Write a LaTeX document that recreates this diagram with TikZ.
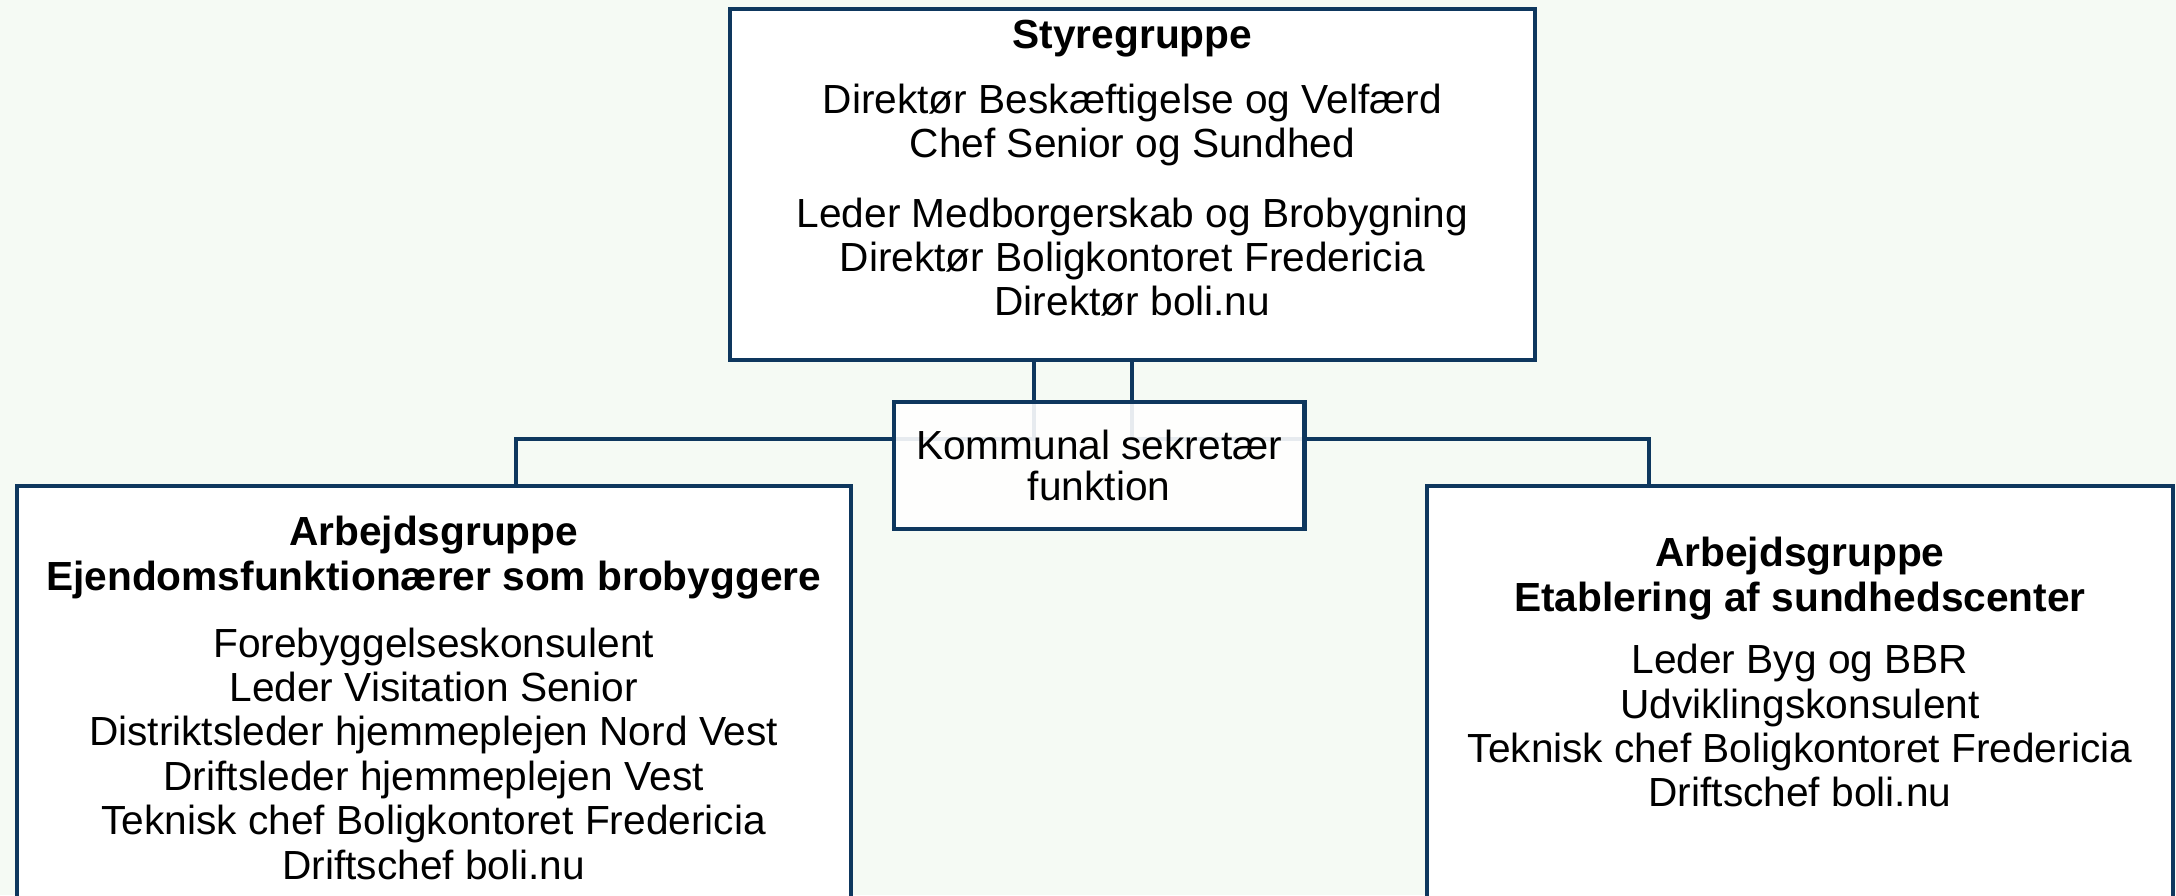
\documentclass[tikz,border=0pt]{standalone}
\usepackage{fontspec}
\setmainfont{Liberation Sans}
\usetikzlibrary{positioning}
\definecolor{bgmint}{RGB}{245,250,244}
\definecolor{navy}{RGB}{14,55,94}
\begin{document}
\begin{tikzpicture}[x=1pt,y=-1pt,
    box/.style={draw=navy,line width=2.9pt,fill=white,inner sep=0pt},
    conn/.style={draw=navy,line width=2.9pt},
    txt/.style={align=center,inner sep=0pt,font=\fontsize{29.3}{32}\selectfont}]
                \useasboundingbox (0,0) rectangle (1568,645);
                \fill[bgmint] (0,0) rectangle (1568,645);
                \clip (0,0) rectangle (1568,645);

                \node[box,minimum width=580pt,minimum height=253pt,anchor=north] (styre) at (816,5) {};
                \node[box,minimum width=601pt,minimum height=420pt,anchor=north] (arbA) at (312.5,349) {};
                \node[box,minimum width=538pt,minimum height=420pt,anchor=north] (arbB) at (1297,349) {};

                \node[txt,below=9pt of styre.north] (styreT) {\textbf{Styregruppe}\\[15pt]
                    Direktør Beskæftigelse og Velfærd\\Chef Senior og Sundhed\\[18pt]
                    Leder Medborgerskab og Brobygning\\Direktør Boligkontoret Fredericia\\Direktør boli.nu};
                \node[txt,below=23pt of arbA.north] (arbAT) {\textbf{Arbejdsgruppe}\\\textbf{Ejendomsfunktionærer som brobyggere}\\[16pt]
                    Forebyggelseskonsulent\\Leder Visitation Senior\\Distriktsleder hjemmeplejen Nord Vest\\
                    Driftsleder hjemmeplejen Vest\\Teknisk chef Boligkontoret Fredericia\\Driftschef boli.nu};
                \node[txt,below=38pt of arbB.north] (arbBT) {\textbf{Arbejdsgruppe}\\\textbf{Etablering af sundhedscenter}\\[13pt]
                    Leder Byg og BBR\\Udviklingskonsulent\\Teknisk chef Boligkontoret Fredericia\\Driftschef boli.nu};

                \coordinate (busL) at (372,316);
                \coordinate (busR) at (1188,316);
                \draw[conn] ([xshift=-71pt]styre.south) |- (busL) -- (busL |- arbA.north);
                \draw[conn] (styre.south) |- (busR) -- (busR |- arbB.north);

                \node[box,txt,fill opacity=0.9,text opacity=1,minimum width=296pt,minimum height=91pt,
                    font=\fontsize{29.3}{30}\selectfont] (sekr) at (792,335.5) {Kommunal sekretær\\funktion};
            \end{tikzpicture}
\end{document}
